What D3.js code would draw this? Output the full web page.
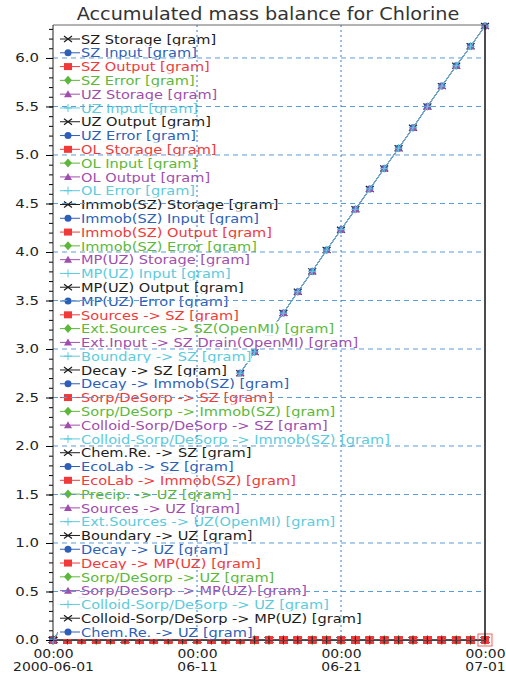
<!DOCTYPE html>
<html lang="en">
<head>
<meta charset="UTF-8">
<title>Accumulated mass balance for Chlorine</title>
<script src="https://d3js.org/d3.v7.min.js"></script>
<style>
  body { margin: 0; background: #fff; }
  text { font-family: "DejaVu Sans", sans-serif; }
</style>
</head>
<body>
<div id="chart"></div>
<script>
// legend / series names, in legend order
var seriesNames = [
  "SZ Storage [gram]", "SZ Input [gram]", "SZ Output [gram]", "SZ Error [gram]",
  "UZ Storage [gram]", "UZ Input [gram]", "UZ Output [gram]", "UZ Error [gram]",
  "OL Storage [gram]", "OL Input [gram]", "OL Output [gram]", "OL Error [gram]",
  "Immob(SZ) Storage [gram]", "Immob(SZ) Input [gram]", "Immob(SZ) Output [gram]", "Immob(SZ) Error [gram]",
  "MP(UZ) Storage [gram]", "MP(UZ) Input [gram]", "MP(UZ) Output [gram]", "MP(UZ) Error [gram]",
  "Sources -> SZ [gram]", "Ext.Sources -> SZ(OpenMI) [gram]", "Ext.Input -> SZ Drain(OpenMI) [gram]",
  "Boundary -> SZ [gram]", "Decay -> SZ [gram]", "Decay -> Immob(SZ) [gram]",
  "Sorp/DeSorp -> SZ [gram]", "Sorp/DeSorp -> Immob(SZ) [gram]",
  "Colloid-Sorp/DeSorp -> SZ [gram]", "Colloid-Sorp/DeSorp -> Immob(SZ) [gram]",
  "Chem.Re. -> SZ [gram]", "EcoLab -> SZ [gram]", "EcoLab -> Immob(SZ) [gram]",
  "Precip. -> UZ [gram]", "Sources -> UZ [gram]", "Ext.Sources -> UZ(OpenMI) [gram]",
  "Boundary -> UZ [gram]", "Decay -> UZ [gram]", "Decay -> MP(UZ) [gram]",
  "Sorp/DeSorp -> UZ [gram]", "Sorp/DeSorp -> MP(UZ) [gram]",
  "Colloid-Sorp/DeSorp -> UZ [gram]", "Colloid-Sorp/DeSorp -> MP(UZ) [gram]",
  "Chem.Re. -> UZ [gram]"
];

// days 2000-06-01 .. 2000-07-01, daily
var days = d3.range(31).map(function(i) { return new Date(2000, 5, 1 + i); });

// the accumulating series (several series sit on top of each other)
var risingValues = [0, 0.22, 0.43, 0.64, 0.85, 1.06, 1.27, 1.48, 1.69, 1.90, 2.11, 2.32, 2.53,
  2.75, 2.97, 3.17, 3.37, 3.59, 3.80, 4.02, 4.23, 4.44, 4.65, 4.86, 5.07, 5.28, 5.50,
  5.71, 5.92, 6.12, 6.33];
var risingSeries = ["SZ Storage [gram]", "SZ Input [gram]",
  "Ext.Input -> SZ Drain(OpenMI) [gram]", "Boundary -> SZ [gram]"];
// every other series stays at zero
var zeroValues = days.map(function() { return 0; });

var yTicks = [0, 0.5, 1.0, 1.5, 2.0, 2.5, 3.0, 3.5, 4.0, 4.5, 5.0, 5.5, 6.0];
var xTickDays = [new Date(2000, 5, 1), new Date(2000, 5, 11), new Date(2000, 5, 21), new Date(2000, 6, 1)];
var xTickTop = ["00:00", "00:00", "00:00", "00:00"];
var xTickBottom = ["2000-06-01", "06-11", "06-21", "07-01"];

var palette = ["#1c1c1c", "#2e5fb7", "#f03a3a", "#5cb83a", "#a04eae", "#5ccbdc"];
var shapes = ["x", "circle", "square", "diamond", "triangle", "plus"];

var W = 506, H = 675;
var margin = {top: 25, right: 21, bottom: 35, left: 53};
var width = W - margin.left - margin.right,
    height = H - margin.top - margin.bottom;

// the original font is wider than DejaVu at the same height
function widen(sel, f) {
  sel.each(function() {
    var n = this;
    d3.select(n).attr("textLength", n.getComputedTextLength() * f)
      .attr("lengthAdjust", "spacingAndGlyphs");
  });
}

var svg = d3.select("#chart").append("svg")
    .attr("width", W).attr("height", H);

svg.append("text")
  .attr("x", 268).attr("y", 20)
  .attr("text-anchor", "middle")
  .style("font-size", "17px")
  .style("fill", "#333")
  .text("Accumulated mass balance for Chlorine")
  .call(widen, 1.13);

var g = svg.append("g")
  .attr("transform", "translate(" + margin.left + "," + margin.top + ")");

var x = d3.scaleTime()
  .domain([days[0], days[30]])
  .range([0, width]);
var y = d3.scaleLinear()
  .domain([0, 6.34])
  .range([height, 0]);

function marker(sel, shape, color) {
  if (shape == "circle") {
    sel.append("circle").attr("r", 3.5).attr("fill", color);
  } else if (shape == "square") {
    sel.append("rect").attr("x", -4).attr("y", -3.5).attr("width", 8).attr("height", 7).attr("fill", color);
  } else if (shape == "diamond") {
    sel.append("path").attr("d", "M0,-4.5L4,0L0,4.5L-4,0Z").attr("fill", color);
  } else if (shape == "triangle") {
    sel.append("path").attr("d", "M0,-4L4,3L-4,3Z").attr("fill", color);
  } else if (shape == "plus") {
    sel.append("path").attr("d", "M-4,0H4M0,-4V4").attr("stroke", color).attr("stroke-width", 1);
  } else {
    sel.append("path").attr("d", "M-4,-3L4,3M-4,3L4,-3").attr("stroke", color).attr("stroke-width", 1.2);
  }
}

var line = d3.line()
  .x(function(d, i) { return x(days[i]); })
  .y(function(d) { return y(d); });

// zero series: drawn so the red squares end up on top like the original
var drawOrder = [5, 4, 1, 3, 0, 2];
var zeroSeries = seriesNames.filter(function(n) { return risingSeries.indexOf(n) < 0; });
drawOrder.forEach(function(k) {
  zeroSeries.forEach(function(name) {
    var idx = seriesNames.indexOf(name);
    if (idx % 6 != k) return;
    g.append("path").datum(zeroValues)
      .attr("d", line).attr("fill", "none")
      .attr("stroke", k == 2 ? "#555" : palette[k]).attr("stroke-width", 1.5);
    g.selectAll(null).data(zeroValues).enter().append("g")
      .attr("transform", function(d, i) { return "translate(" + x(days[i]) + "," + y(d) + ")"; })
      .each(function() { marker(d3.select(this), shapes[k], palette[k]); });
  });
});
// black centre tick visible through the red squares
g.selectAll(null).data(zeroValues).enter().append("line")
  .attr("x1", function(d, i) { return x(days[i]); }).attr("x2", function(d, i) { return x(days[i]); })
  .attr("y1", function(d) { return y(d) - 3.5; }).attr("y2", function(d) { return y(d) + 3.5; })
  .attr("stroke", "#222").attr("stroke-width", 1.2);
// highlighted last zero point
g.append("rect")
  .attr("x", x(days[30]) - 7).attr("y", y(0) - 6)
  .attr("width", 14).attr("height", 12)
  .attr("fill", "none").attr("stroke", "#f06060").attr("stroke-width", 1);

// rising series
risingSeries.forEach(function(name) {
  var idx = seriesNames.indexOf(name);
  var k = idx % 6;
  g.append("path").datum(risingValues)
    .attr("d", line).attr("fill", "none")
    .attr("stroke", palette[k]).attr("stroke-width", 1);
  g.selectAll(null).data(risingValues).enter().append("g")
    .attr("transform", function(d, i) { return "translate(" + x(days[i]) + "," + y(d) + ")"; })
    .each(function() { marker(d3.select(this), shapes[k], palette[k]); });
});

// legend, each row on a white box
var rowY = d3.scaleLinear().domain([0, seriesNames.length - 1]).range([14, 607]);
var legend = g.selectAll(".leg").data(seriesNames).enter().append("g")
  .attr("class", "leg")
  .attr("transform", function(d, i) { return "translate(5," + rowY(i) + ")"; });
legend.append("rect").attr("class", "bg")
  .attr("x", 0).attr("y", -7).attr("height", 14).attr("fill", "#fff");
legend.append("line")
  .attr("x1", 2).attr("x2", 22)
  .attr("stroke", function(d, i) { return palette[i % 6]; })
  .attr("stroke-width", 1);
legend.append("g").attr("transform", "translate(10,0)")
  .each(function(d, i) { marker(d3.select(this), shapes[i % 6], palette[i % 6]); });
legend.append("text")
  .attr("x", 23).attr("dy", "0.36em")
  .style("font-size", "13px")
  .style("fill", function(d, i) { return palette[i % 6]; })
  .text(function(d) { return d; })
  .call(widen, 1.12);
legend.each(function() {
  var t = +d3.select(this).select("text").attr("textLength");
  d3.select(this).select("rect.bg").attr("width", 23 + t);
});

// grid on top of the legend
g.selectAll(".hgrid").data(yTicks.slice(1)).enter().append("line")
  .attr("x1", 0).attr("x2", width)
  .attr("y1", function(d) { return y(d); }).attr("y2", function(d) { return y(d); })
  .attr("stroke", "#5b9bd5").attr("stroke-dasharray", "5,4");
g.selectAll(".vgrid").data(xTickDays.slice(1, 3)).enter().append("line")
  .attr("x1", function(d) { return x(d); }).attr("x2", function(d) { return x(d); })
  .attr("y1", 0).attr("y2", height)
  .attr("stroke", "#3a78c8").attr("stroke-dasharray", "2,3");

// frame
g.append("line").attr("x1", 0).attr("x2", width).attr("y1", 0).attr("y2", 0)
  .attr("stroke", "#666");
g.append("line").attr("x1", width).attr("x2", width).attr("y1", 0).attr("y2", height)
  .attr("stroke", "#111").attr("stroke-width", 1.5);

// y axis: minor ticks then major
g.append("g")
  .call(d3.axisLeft(y).tickValues(d3.range(0, 64).map(function(i) { return i / 10; }))
    .tickSize(4).tickFormat(""))
  .call(function(a) { a.select(".domain").remove(); });
var yAxis = g.append("g")
  .call(d3.axisLeft(y).tickValues(yTicks).tickSize(7).tickPadding(7).tickFormat(d3.format(".1f")));
yAxis.select(".domain").attr("d", "M0," + height + "V0").attr("stroke", "#222");
yAxis.selectAll("text").style("font-size", "11.5px").style("font-family", "DejaVu Sans")
  .attr("fill", "#222").call(widen, 1.3);

// x axis
var xAxis = g.append("g")
  .attr("transform", "translate(0," + height + ")")
  .call(d3.axisBottom(x).tickValues(xTickDays).tickSize(0).tickFormat(""));
xAxis.select(".domain").attr("stroke", "#444");
xAxis.selectAll(".tick").append("text")
  .attr("fill", "#222").attr("text-anchor", "middle")
  .style("font-size", "12px")
  .each(function(d, i) {
    var t = d3.select(this);
    t.append("tspan").attr("x", 0).attr("y", 18).text(xTickTop[i]);
    t.append("tspan").attr("x", 0).attr("y", 31).text(xTickBottom[i]);
  });
xAxis.selectAll("tspan").call(widen, 1.16);
</script>
</body>
</html>
